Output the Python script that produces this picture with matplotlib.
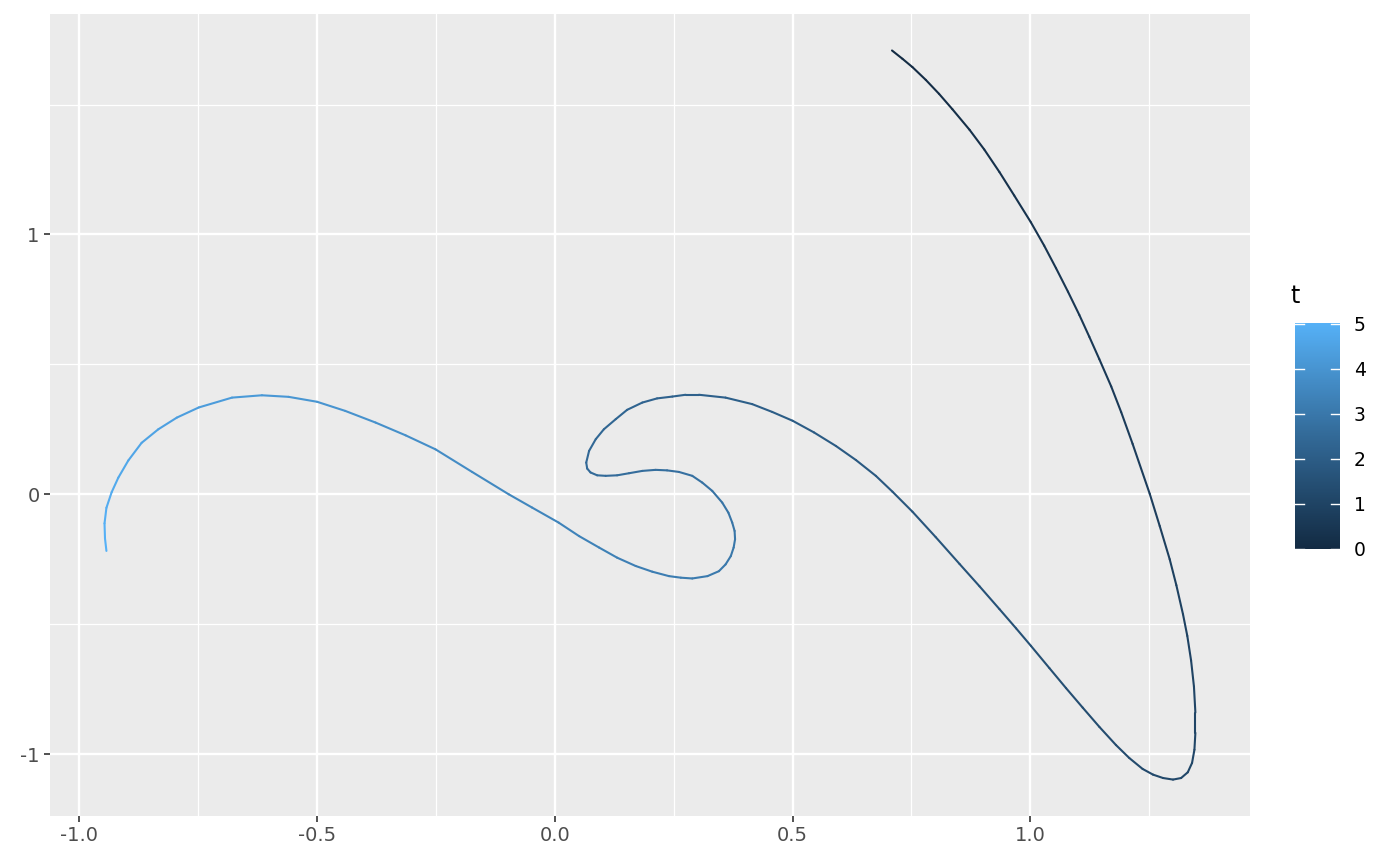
import matplotlib
matplotlib.use("Agg")
import matplotlib.pyplot as plt
import numpy as np
from matplotlib.collections import LineCollection
from matplotlib.colors import LinearSegmentedColormap, Normalize

# path: x, y and the colour variable t
x = [0.709, 0.731, 0.752, 0.780, 0.808, 0.836, 0.872, 0.903, 0.935,
     0.966, 1.001, 1.029, 1.054, 1.079, 1.103, 1.124, 1.145, 1.170, 1.191,
     1.215, 1.251, 1.272, 1.293, 1.307, 1.321, 1.330, 1.338, 1.344, 1.347,
     1.347, 1.345, 1.340, 1.331, 1.317, 1.300, 1.279, 1.258, 1.236, 1.208,
     1.180, 1.145, 1.110, 1.075, 1.040, 1.001, 0.970, 0.935, 0.893, 0.851,
     0.801, 0.752, 0.710, 0.675, 0.633, 0.591, 0.545, 0.500, 0.457, 0.415,
     0.359, 0.303, 0.275, 0.247, 0.215, 0.184, 0.152, 0.128, 0.103, 0.086,
     0.072, 0.066, 0.068, 0.075, 0.089, 0.107, 0.131, 0.156, 0.184, 0.212,
     0.236, 0.261, 0.289, 0.310, 0.331, 0.352, 0.365, 0.373, 0.378, 0.379,
     0.376, 0.370, 0.359, 0.345, 0.321, 0.289, 0.265, 0.240, 0.205, 0.170,
     0.131, 0.093, 0.051, 0.008, -0.048, -0.097, -0.174, -0.251, -0.314, -0.377,
     -0.441, -0.500, -0.560, -0.616, -0.679, -0.749, -0.795, -0.834, -0.869, -0.897,
     -0.918, -0.932, -0.943, -0.947, -0.946, -0.943]
y = [1.708, 1.676, 1.644, 1.595, 1.541, 1.482, 1.403, 1.327, 1.240,
     1.150, 1.047, 0.957, 0.870, 0.780, 0.690, 0.606, 0.520, 0.415, 0.316,
     0.194, 0.002, -0.122, -0.250, -0.350, -0.462, -0.545, -0.640, -0.740, -0.840,
     -0.918, -0.983, -1.034, -1.070, -1.092, -1.098, -1.092, -1.079, -1.057, -1.015,
     -0.965, -0.895, -0.821, -0.746, -0.669, -0.583, -0.516, -0.442, -0.354, -0.268,
     -0.165, -0.067, 0.010, 0.071, 0.132, 0.186, 0.238, 0.283, 0.317, 0.347,
     0.372, 0.383, 0.383, 0.376, 0.369, 0.353, 0.325, 0.289, 0.250, 0.212,
     0.167, 0.122, 0.099, 0.084, 0.073, 0.071, 0.073, 0.081, 0.090, 0.094,
     0.092, 0.086, 0.071, 0.045, 0.013, -0.032, -0.071, -0.109, -0.141, -0.173,
     -0.205, -0.238, -0.270, -0.296, -0.315, -0.324, -0.321, -0.315, -0.298, -0.276,
     -0.244, -0.205, -0.161, -0.109, -0.051, 0.000, 0.086, 0.173, 0.227, 0.276,
     0.321, 0.356, 0.375, 0.381, 0.372, 0.334, 0.295, 0.250, 0.198, 0.130,
     0.064, 0.008, -0.052, -0.112, -0.170, -0.218]
t = [0.00, 0.03, 0.05, 0.08, 0.11, 0.14, 0.18, 0.22, 0.26,
     0.30, 0.34, 0.38, 0.42, 0.46, 0.50, 0.53, 0.57, 0.60, 0.64,
     0.69, 0.76, 0.80, 0.85, 0.88, 0.92, 0.95, 0.98, 1.01, 1.04,
     1.06, 1.08, 1.10, 1.12, 1.13, 1.15, 1.17, 1.19, 1.21, 1.24,
     1.27, 1.31, 1.35, 1.39, 1.43, 1.47, 1.50, 1.54, 1.58, 1.62,
     1.67, 1.72, 1.76, 1.80, 1.84, 1.88, 1.92, 1.96, 2.00, 2.04,
     2.09, 2.14, 2.16, 2.19, 2.22, 2.25, 2.28, 2.32, 2.35, 2.39,
     2.42, 2.46, 2.48, 2.50, 2.52, 2.54, 2.57, 2.59, 2.62, 2.65,
     2.67, 2.70, 2.73, 2.76, 2.79, 2.83, 2.86, 2.89, 2.91, 2.94,
     2.96, 2.99, 3.02, 3.05, 3.08, 3.11, 3.13, 3.16, 3.19, 3.23,
     3.27, 3.32, 3.37, 3.42, 3.48, 3.54, 3.63, 3.72, 3.79, 3.86,
     3.93, 4.00, 4.07, 4.13, 4.21, 4.30, 4.37, 4.44, 4.53, 4.62,
     4.70, 4.78, 4.85, 4.92, 4.97, 5.00]

x_ticks = [-1.0, -0.5, 0.0, 0.5, 1.0]
x_minor = [-0.75, -0.25, 0.25, 0.75, 1.25]
y_ticks = [-1, 0, 1]
y_minor = [-0.5, 0.5, 1.5]
cbar_ticks = [0, 1, 2, 3, 4, 5]

cmap = LinearSegmentedColormap.from_list("gg", ["#132B43", "#336A98", "#56B1F7"])
norm = Normalize(0, 5)

fig = plt.figure(figsize=(14, 8.66), dpi=100)
ax = fig.add_axes([0.0357, 0.0577, 0.8571, 0.9261])
ax.set_facecolor("#EBEBEB")

pts = np.column_stack([x, y]).reshape(-1, 1, 2)
segs = np.concatenate([pts[:-1], pts[1:]], axis=1)
tv = np.array(t)
lc = LineCollection(segs, cmap=cmap, norm=norm, linewidth=1.5, capstyle="round", joinstyle="round")
lc.set_array((tv[:-1] + tv[1:]) / 2)
ax.add_collection(lc)

xr = max(x) - min(x)
yr = max(y) - min(y)
ax.set_xlim(min(x) - 0.05 * xr, max(x) + 0.05 * xr)
ax.set_ylim(min(y) - 0.05 * yr, max(y) + 0.05 * yr)

ax.set_xticks(x_ticks)
ax.set_xticklabels([f"{v:.1f}" for v in x_ticks])
ax.set_yticks(y_ticks)
ax.set_yticklabels([str(v) for v in y_ticks])
ax.set_xticks(x_minor, minor=True)
ax.set_yticks(y_minor, minor=True)
ax.grid(which="major", color="white", linewidth=1.7)
ax.grid(which="minor", color="white", linewidth=0.9)
ax.set_axisbelow(True)
ax.tick_params(which="major", length=4.5, width=1.2, color="#333333", labelcolor="#4D4D4D", labelsize=14, pad=3)
ax.tick_params(which="minor", length=0)
for s in ax.spines.values():
    s.set_visible(False)

# colour bar legend
cax = fig.add_axes([0.925, 0.365, 0.032, 0.263])
grad = np.linspace(0, 5, 300).reshape(-1, 1)
cax.imshow(grad, aspect="auto", cmap=cmap, norm=norm, origin="lower", extent=[0, 1, 0, 5])
for v in cbar_ticks:
    cax.plot([0, 0.2], [v, v], color="white", lw=1)
    cax.plot([0.8, 1], [v, v], color="white", lw=1)
cax.set_xlim(0, 1)
cax.set_ylim(-0.03, 5.03)
cax.set_xticks([])
cax.yaxis.tick_right()
cax.set_yticks(cbar_ticks)
cax.tick_params(length=0, labelsize=13.5, labelcolor="black", pad=10)
for s in cax.spines.values():
    s.set_visible(False)
fig.text(0.922, 0.650, "t", fontsize=17, color="black")

fig.savefig("out.png", dpi=100)
